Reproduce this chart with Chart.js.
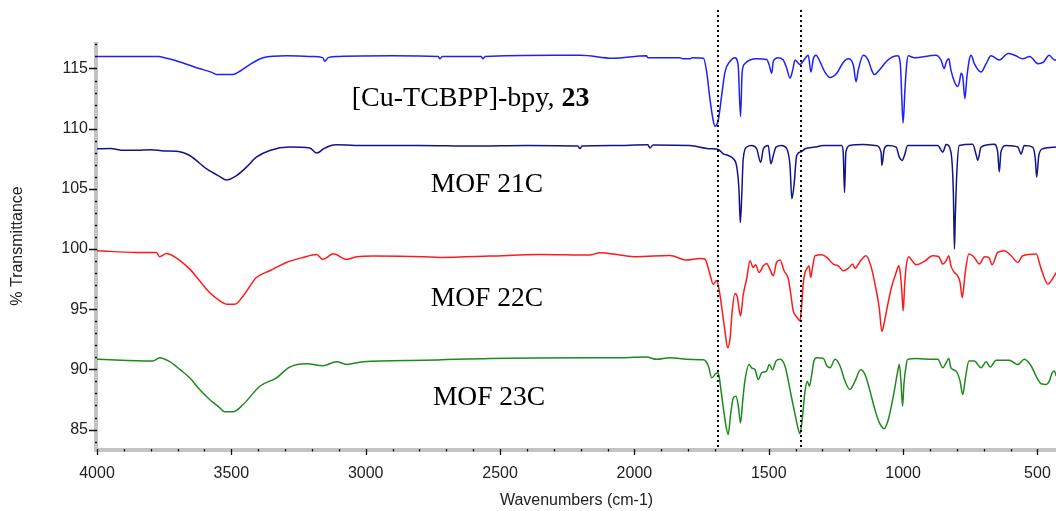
<!DOCTYPE html>
<html>
<head>
<meta charset="utf-8">
<script src="https://cdn.jsdelivr.net/npm/chart.js@4.4.1/dist/chart.umd.min.js"></script>
<style>
  html, body { margin: 0; padding: 0; background: #fff; }
  #wrap { width: 1056px; height: 511px; }
</style>
</head>
<body>
<div id="wrap"><canvas id="ir" width="1056" height="511"></canvas></div>
<script>
// FTIR spectra: wavenumber (cm-1) and % transmittance for each sample (offset traces)
const cuWn = [4000,3900,3770,3760,3700,3620,3575,3555,3494,3470,3440,3382,3295,3200,3160,3152,3140,3100,2900,2730,2724,2715,2570,2564,2555,2300,2200,2081,1955,1950,1830,1820,1793,1785,1743,1731,1719,1707,1700,1688,1675,1663,1644,1626,1614,1605,1599,1589,1570,1545,1508,1498,1489,1483,1465,1446,1433,1421,1411,1402,1384,1365,1353,1343,1334,1324,1309,1291,1272,1247,1223,1204,1185,1175,1167,1148,1130,1117,1107,1089,1057,1020,1010,1005,1000,993,987,981,958,878,859,847,840,830,822,809,797,791,784,778,770,763,754,747,735,710,691,673,642,609,585,554,529,498,479,456,437,430];
const cuT  = [116.0,116.0,116.0,115.95,115.6,115.0,114.7,114.5,114.5,114.75,115.2,115.9,116.05,116.0,115.9,115.6,115.9,116.0,116.05,116.0,115.8,116.0,116.0,115.8,116.0,116.1,116.1,115.85,116.05,115.9,115.9,115.8,115.8,115.9,115.85,114.7,112.5,110.7,110.2,110.7,112.8,114.7,115.6,115.9,115.3,111.0,114.7,115.4,115.7,115.8,115.75,115.27,114.6,115.6,115.9,115.7,115.0,114.2,114.86,115.7,115.33,115.83,116.1,114.7,115.83,116.1,115.55,114.7,114.25,114.6,115.5,115.8,115.27,113.9,114.86,116.1,115.7,114.86,114.5,114.86,115.7,116.05,115.27,112.63,110.47,113.3,115.27,116.05,115.9,116.1,115.7,114.99,115.5,115.8,114.86,113.9,113.5,113.8,114.6,114.3,112.5,114.2,115.7,116.1,115.4,114.7,115.4,116.05,115.7,116.25,116.1,115.8,116.0,115.4,115.5,116.1,115.7,115.7];

const m21Wn = [4000,3950,3900,3850,3800,3750,3704,3655,3593,3543,3518,3481,3444,3407,3357,3283,3208,3183,3170,3159,3109,3000,2800,2600,2400,2210,2203,2195,2081,1950,1942,1930,1794,1719,1688,1669,1651,1632,1620,1611,1606,1601,1595,1582,1564,1545,1530,1520,1502,1492,1483,1473,1452,1433,1421,1414,1406,1396,1378,1365,1328,1297,1229,1223,1218,1213,1198,1148,1102,1082,1079,1070,1057,1026,1014,1004,995,983,871,852,840,822,813,809,806,800,791,741,729,722,710,661,648,642,636,617,573,561,549,518,508,503,495,480,430];
const m21T  = [108.33,108.35,108.2,108.2,108.25,108.15,108.13,107.77,106.67,106.02,105.74,106.1,106.8,107.63,108.19,108.47,108.4,107.97,108.1,108.3,108.66,108.6,108.6,108.55,108.6,108.55,108.35,108.55,108.6,108.66,108.4,108.65,108.6,108.33,108.27,107.9,107.77,107.5,106.94,105.0,102.2,104.17,107.5,108.47,108.6,108.33,107.2,108.33,108.6,107.08,107.77,108.47,108.6,108.33,106.94,104.17,105.3,107.77,108.1,108.33,108.47,108.6,108.6,108.05,104.7,108.05,108.6,108.69,108.6,108.05,106.94,108.33,108.6,108.47,107.63,107.36,107.77,108.6,108.6,108.05,108.69,108.05,104.7,100.0,102.5,106.4,108.6,108.7,107.9,107.36,108.47,108.7,108.05,106.4,108.05,108.6,108.47,107.9,108.6,108.47,107.5,105.97,107.77,108.33,108.47];

const m22Wn = [4000,3853,3779,3767,3742,3704,3655,3618,3581,3543,3518,3487,3456,3407,3357,3295,3233,3183,3159,3121,3071,3034,2972,2786,2724,2538,2352,2166,2129,2054,1992,1868,1806,1756,1738,1719,1707,1694,1684,1675,1663,1653,1644,1636,1626,1617,1610,1605,1595,1582,1570,1558,1549,1536,1520,1508,1496,1483,1471,1458,1443,1427,1418,1409,1399,1390,1384,1378,1372,1365,1359,1350,1344,1337,1328,1303,1284,1260,1241,1223,1204,1188,1179,1160,1138,1120,1102,1089,1079,1070,1057,1045,1026,1016,1010,1004,1000,994,989,979,971,952,921,890,867,852,840,830,822,809,797,788,780,776,768,755,735,716,697,681,669,648,623,598,573,555,505,486,461,449,430];
const m22T  = [99.86,99.72,99.7,99.36,99.63,99.25,98.33,97.36,96.38,95.69,95.41,95.41,96.1,97.63,98.19,98.88,99.3,99.55,99.14,99.6,99.14,99.36,99.41,99.36,99.3,99.41,99.55,99.5,99.69,99.5,99.36,99.47,99.08,99.22,99.17,97.91,97.08,97.39,96.52,95.14,93.19,91.8,92.6,94.86,96.3,96.0,94.94,94.44,96.2,97.55,99.03,98.47,98.69,98.05,98.6,98.8,98.33,97.78,98.89,99.08,98.19,97.5,96.25,94.86,94.44,94.16,94.02,95.14,97.08,98.05,98.33,98.6,97.63,98.47,99.44,99.52,99.3,98.75,98.6,98.19,98.4,98.75,98.4,98.97,99.44,98.6,96.8,95.14,93.14,93.9,95.41,96.66,98.05,98.6,97.9,96.25,94.86,97.08,98.47,99.36,99.17,98.69,98.97,99.44,99.36,98.75,99.03,99.44,98.6,98.05,97.78,97.22,95.97,96.52,98.19,99.58,99.3,98.75,99.36,99.3,98.69,99.72,99.86,99.44,98.89,99.44,99.58,98.33,97.08,97.36,98.05];

const m23Wn = [4000,3792,3767,3729,3692,3655,3618,3581,3543,3525,3494,3456,3394,3332,3283,3220,3159,3109,3071,3010,2786,2538,2166,2081,1955,1917,1868,1806,1756,1743,1725,1712,1697,1688,1679,1669,1659,1651,1642,1632,1622,1614,1605,1597,1589,1573,1564,1551,1539,1526,1508,1498,1486,1473,1458,1440,1427,1415,1402,1390,1384,1375,1365,1357,1349,1340,1332,1322,1297,1284,1272,1253,1235,1216,1198,1179,1158,1142,1123,1105,1089,1070,1057,1045,1033,1020,1014,1008,1002,997,989,983,952,890,871,852,840,830,822,803,788,778,768,755,735,710,691,676,654,605,573,549,524,505,486,467,456,445,437,430];
const m23T  = [90.83,90.69,90.97,90.64,90.0,89.3,88.33,87.5,86.8,86.47,86.47,87.08,88.6,89.3,90.19,90.47,90.3,90.64,90.41,90.64,90.75,90.91,90.97,90.97,91.02,90.83,90.97,90.83,90.8,90.8,90.3,89.3,89.64,89.72,88.47,86.8,85.27,84.58,86.25,87.64,87.77,87.08,85.55,87.36,89.02,90.41,90.13,89.97,89.16,89.72,89.86,90.41,89.97,90.69,90.83,90.3,89.02,87.64,86.25,85.0,84.64,85.97,88.19,89.02,88.61,89.58,90.69,90.97,90.91,90.3,90.13,90.83,90.3,89.02,88.33,89.02,89.97,89.58,88.19,86.66,85.6,85.08,85.69,86.8,88.19,89.86,90.41,89.02,86.94,88.75,90.3,90.83,90.91,90.83,90.83,90.13,90.55,90.91,90.13,89.86,89.02,87.91,89.3,90.69,90.69,90.13,90.63,90.19,90.75,90.75,90.41,90.83,90.3,89.44,88.8,88.75,89.02,89.72,89.86,89.44];

// Axis ranges and tick sets
const xRange = [431, 4000];
const yRange = [83.3, 117.2];
const xTickValues = [];
for (let v = 500; v <= 4000; v += 100) xTickValues.push(v);
const yTickValues = [];
for (let v = 84; v <= 117; v += 1) yTickValues.push(v);

// Reference bands marked by dotted lines (cm-1)
const markerLines = [1689, 1381];

// Trace labels, anchored in data space (left edge, vertical centre)
const traceLabels = [
  { parts: [["[Cu-TCBPP]-bpy, ", false], ["23", true]], wn: 3052, t: 112.5, size: 28 },
  { parts: [["MOF 21C", false]], wn: 2758, t: 105.3, size: 27.5 },
  { parts: [["MOF 22C", false]], wn: 2758, t: 95.9, size: 27.5 },
  { parts: [["MOF 23C", false]], wn: 2750, t: 87.6, size: 27.5 }
];

function toXY(wn, t) { return wn.map((w, i) => ({ x: w, y: t[i] })); }

const SANS = '"Liberation Sans", Arial, sans-serif';
const SERIF = '"Liberation Serif", "Times New Roman", serif';
const TEXT = '#222';

const axisPlugin = {
  id: 'irAxes',
  beforeDatasetsDraw(chart) {
    const { ctx, chartArea: a, scales: { x, y } } = chart;
    ctx.save();
    // grey axis bars
    ctx.fillStyle = '#c4c4c4';
    ctx.fillRect(a.left - 3, a.top, 4, a.bottom - a.top + 2);
    ctx.fillRect(a.left - 3, a.bottom - 2, a.right - a.left + 3, 4);
    ctx.strokeStyle = '#111';
    ctx.lineWidth = 1.3;
    ctx.beginPath();
    y.ticks.forEach(tk => {
      const py = Math.round(y.getPixelForValue(tk.value)) + 0.5;
      const major = tk.value % 5 === 0;
      ctx.moveTo(major ? a.left - 8 : a.left - 2, py);
      ctx.lineTo(a.left, py);
    });
    x.ticks.forEach(tk => {
      const px = Math.round(x.getPixelForValue(tk.value)) + 0.5;
      const major = tk.value % 500 === 0;
      ctx.moveTo(px, a.bottom - 1);
      ctx.lineTo(px, major ? a.bottom + 5 : a.bottom + 1.5);
    });
    ctx.stroke();
    ctx.restore();
  },
  afterDatasetsDraw(chart) {
    const { ctx, chartArea: a, scales: { x, y } } = chart;
    ctx.save();
    // dotted marker lines
    ctx.strokeStyle = '#000';
    ctx.lineWidth = 2;
    ctx.setLineDash([2, 3]);
    markerLines.forEach(w => {
      const px = Math.round(x.getPixelForValue(w));
      ctx.beginPath();
      ctx.moveTo(px, 10);
      ctx.lineTo(px, a.bottom - 2);
      ctx.stroke();
    });
    ctx.setLineDash([]);
    // trace labels
    ctx.fillStyle = '#000';
    ctx.textBaseline = 'middle';
    ctx.textAlign = 'left';
    traceLabels.forEach(lb => {
      let px = x.getPixelForValue(lb.wn);
      const py = y.getPixelForValue(lb.t);
      lb.parts.forEach(([str, bold]) => {
        ctx.font = (bold ? 'bold ' : '') + lb.size + 'px ' + SERIF;
        ctx.fillText(str, px, py);
        px += ctx.measureText(str).width;
      });
    });
    ctx.restore();
  }
};

const series = [
  { wn: cuWn, t: cuT, color: '#1f1fff' },
  { wn: m21Wn, t: m21T, color: '#14148a' },
  { wn: m22Wn, t: m22T, color: '#ff1a1a' },
  { wn: m23Wn, t: m23T, color: '#1e8a1e' }
];

new Chart(document.getElementById('ir'), {
  type: 'line',
  data: {
    datasets: series.map(s => ({
      data: toXY(s.wn, s.t),
      borderColor: s.color,
      borderWidth: 1.5,
      pointRadius: 0,
      cubicInterpolationMode: 'monotone',
      fill: false
    }))
  },
  options: {
    responsive: false,
    animation: false,
    devicePixelRatio: 1,
    layout: { padding: { top: 42, right: 0, left: 0, bottom: 0 } },
    plugins: { legend: { display: false }, tooltip: { enabled: false } },
    scales: {
      x: {
        type: 'linear',
        reverse: true,
        min: xRange[0],
        max: xRange[1],
        afterBuildTicks: s => { s.ticks = xTickValues.map(v => ({ value: v })); },
        afterFit: s => { s.height = 61; },
        grid: { display: false, drawTicks: false },
        border: { display: false },
        ticks: {
          autoSkip: false,
          maxRotation: 0,
          padding: 14,
          color: TEXT,
          font: { family: SANS, size: 16 },
          callback: v => (v % 500 === 0 ? String(v) : '')
        },
        title: {
          display: true,
          text: 'Wavenumbers (cm-1)',
          color: TEXT,
          font: { family: SANS, size: 16 },
          padding: { top: 0, bottom: 1 }
        }
      },
      y: {
        type: 'linear',
        min: yRange[0],
        max: yRange[1],
        afterBuildTicks: s => { s.ticks = yTickValues.map(v => ({ value: v })); },
        afterFit: s => { s.width = 97; },
        grid: { display: false, drawTicks: false },
        border: { display: false },
        ticks: {
          autoSkip: false,
          padding: 9,
          color: TEXT,
          font: { family: SANS, size: 16 },
          callback: v => (v % 5 === 0 ? String(v) : '')
        },
        title: {
          display: true,
          text: '% Transmittance',
          color: TEXT,
          font: { family: SANS, size: 16 },
          padding: { top: 8, bottom: 0 }
        }
      }
    }
  },
  plugins: [axisPlugin]
});
</script>
</body>
</html>
